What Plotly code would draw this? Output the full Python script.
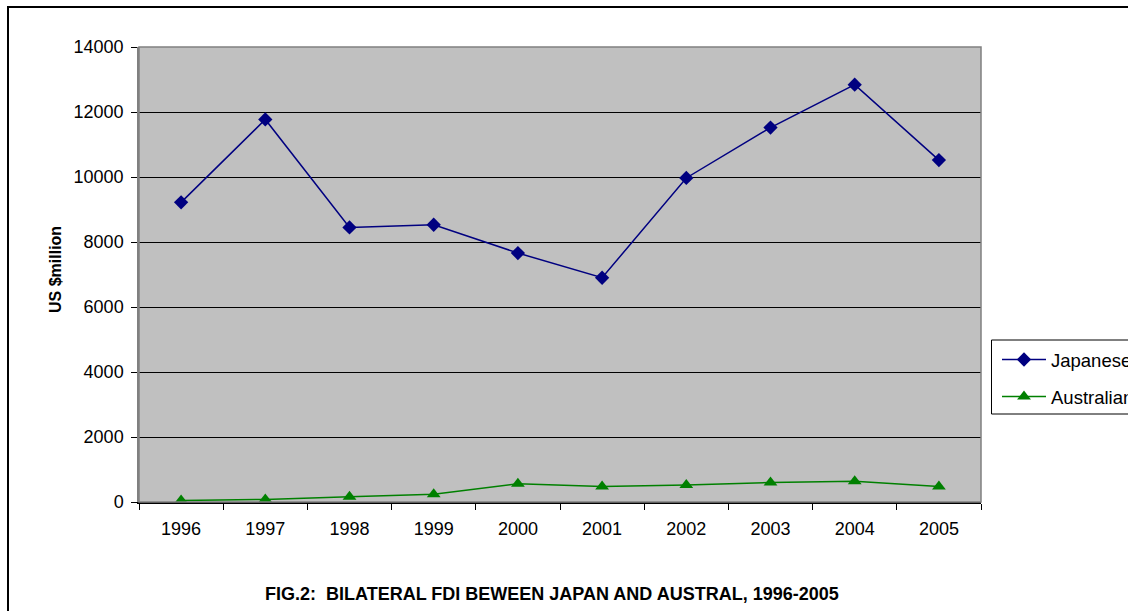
import plotly.graph_objects as go

# Bilateral FDI between Japan and Australia, US$ million
years = ["1996", "1997", "1998", "1999", "2000", "2001", "2002", "2003", "2004", "2005"]
japanese = [9220, 11770, 8450, 8530, 7660, 6900, 9970, 11520, 12840, 10520]
australian = [50, 80, 160, 240, 560, 480, 520, 600, 640, 480]
y_ticks = [0, 2000, 4000, 6000, 8000, 10000, 12000, 14000]

W, H = 1128, 611
L, R, T, B = 139, 981, 47, 502  # plot-area pixel box


def px(x):
    return (x - L) / (R - L)


def py(y):
    return (B - y) / (B - T)


FONT = "Liberation Sans, Arial, sans-serif"
TICK_SIZE = 18

fig = go.Figure()
fig.add_trace(go.Scatter(
    x=years, y=japanese, name="Japanese", mode="lines+markers",
    line=dict(color="#000080", width=1.5),
    marker=dict(symbol="diamond", size=11, color="#000080"),
    legend="legend",
))
fig.add_trace(go.Scatter(
    x=years, y=australian, name="Australian", mode="lines+markers",
    line=dict(color="#008000", width=1.5),
    marker=dict(symbol="triangle-up", size=12, color="#008000"),
    legend="legend2",
))

shapes = [
    # outer chart frame
    dict(type="rect", xref="paper", yref="paper",
         x0=px(8), x1=px(1400), y0=py(800), y1=py(7),
         line=dict(color="black", width=2), fillcolor="rgba(0,0,0,0)", layer="below"),
    # plot-area border
    dict(type="rect", xref="paper", yref="paper",
         x0=0, x1=1, y0=0, y1=1,
         line=dict(color="#808080", width=1.5), fillcolor="rgba(0,0,0,0)", layer="above"),
    # legend frame
    dict(type="rect", xref="paper", yref="paper",
         x0=px(991.5), x1=px(1400), y0=py(414), y1=py(340),
         line=dict(color="black", width=1), fillcolor="white", layer="below"),
]

legend_common = dict(xanchor="left", yanchor="middle", itemwidth=44,
                     bgcolor="rgba(0,0,0,0)", borderwidth=0,
                     font=dict(family=FONT, size=18.5, color="black"))

fig.update_layout(
    width=W, height=H,
    margin=dict(l=L, r=W - R, t=T, b=H - B, autoexpand=False),
    paper_bgcolor="white",
    plot_bgcolor="#C0C0C0",
    font=dict(family=FONT, size=TICK_SIZE, color="black"),
    shapes=shapes,
    showlegend=True,
    legend=dict(x=px(997), y=py(360), **legend_common),
    legend2=dict(x=px(997), y=py(397), **legend_common),
    annotations=[
        dict(text="<b>FIG.2:  BILATERAL FDI BEWEEN JAPAN AND AUSTRAL, 1996-2005</b>",
             xref="paper", yref="paper", x=px(552), y=py(594),
             xanchor="center", yanchor="middle", showarrow=False,
             font=dict(family=FONT, size=18, color="black")),
        # value-axis title
        dict(text="<b>US $million</b>", textangle=-90,
             xref="paper", yref="paper", x=px(55), y=py(270),
             xanchor="center", yanchor="middle", showarrow=False,
             font=dict(family=FONT, size=16, color="black")),
    ],
)

fig.update_xaxes(
    type="category", range=[-0.5, 9.5],
    showgrid=False, showline=True, linecolor="black", linewidth=1.5,
    ticks="outside", tickson="boundaries", ticklen=6, tickcolor="black", tickwidth=1,
    tickfont=dict(family=FONT, size=TICK_SIZE, color="black"),
    ticklabelstandoff=10,
)
fig.update_yaxes(
    range=[0, 14000], tickvals=y_ticks, ticktext=[str(v) for v in y_ticks],
    showgrid=True, gridcolor="black", gridwidth=1,
    zeroline=False, showline=True, linecolor="#808080", linewidth=1.5,
    ticks="outside", ticklen=6, tickcolor="black", tickwidth=1,
    tickfont=dict(family=FONT, size=TICK_SIZE, color="black"),
    ticklabelstandoff=4,
)

fig.write_html("out.html")
